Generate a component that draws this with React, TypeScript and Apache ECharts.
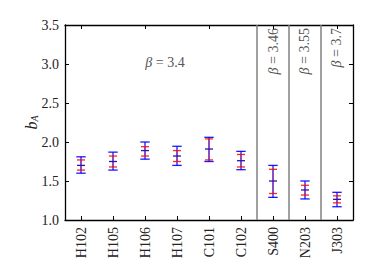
import React, { useEffect, useRef } from "react";
import * as echarts from "echarts";

const categories = ["H102", "H105", "H106", "H107", "C101", "C102", "S400", "N203", "J303"];
const centerValues = [1.70, 1.75, 1.89, 1.82, 1.91, 1.76, 1.50, 1.385, 1.265];
const blueLow = [1.60, 1.64, 1.78, 1.70, 1.75, 1.645, 1.29, 1.27, 1.17];
const blueHigh = [1.81, 1.87, 2.00, 1.945, 2.06, 1.88, 1.70, 1.50, 1.355];
const redLow = [1.64, 1.68, 1.82, 1.75, 1.77, 1.68, 1.34, 1.32, 1.22];
const redHigh = [1.77, 1.82, 1.94, 1.89, 2.04, 1.84, 1.65, 1.445, 1.31];
const separatorsAfter = [5, 6, 7];
const yTicks = { min: 1.0, max: 3.5, interval: 0.5 };

const FONT = "Liberation Serif";

function errRender(color: string, lineColor: string, capHalf: number, lw: number) {
  return (params: any, api: any) => {
    const x = api.value(0);
    const p1 = api.coord([x, api.value(1)]);
    const p2 = api.coord([x, api.value(2)]);
    const st = { stroke: color, lineWidth: lw };
    return {
      type: "group",
      children: [
        { type: "line", shape: { x1: p1[0], y1: p1[1], x2: p2[0], y2: p2[1] }, style: { stroke: lineColor, lineWidth: lw } },
        { type: "line", shape: { x1: p1[0] - capHalf, y1: p1[1], x2: p1[0] + capHalf, y2: p1[1] }, style: st },
        { type: "line", shape: { x1: p2[0] - capHalf, y1: p2[1], x2: p2[0] + capHalf, y2: p2[1] }, style: st },
      ],
    };
  };
}

const betaStyle = (text: string) => ({
  text,
  fontFamily: FONT,
  fontSize: 14,
  fill: "#555",
  rich: {
    i: { fontFamily: FONT, fontStyle: "italic", fontSize: 14, fill: "#555" },
    n: { fontFamily: FONT, fontSize: 14, fill: "#555" },
  },
});

export default function App() {
  const ref = useRef<HTMLDivElement>(null);
  useEffect(() => {
    if (!ref.current) return;
    const chart = echarts.init(ref.current, null, { renderer: "svg" });
    const axisLine = { show: true, lineStyle: { color: "#000", width: 1.3 } };
    const tick = { show: true, inside: true, length: 4, lineStyle: { color: "#000", width: 1 } };
    chart.setOption({
      animation: false,
      backgroundColor: "#fff",
      textStyle: { fontFamily: FONT },
      grid: { left: 65, right: 21, top: 25, bottom: 60 },
      xAxis: [
        {
          type: "category",
          data: categories,
          boundaryGap: true,
          axisLine,
          axisTick: { ...tick, alignWithLabel: true },
          axisLabel: { rotate: 90, fontFamily: FONT, fontSize: 14, color: "#222", margin: 7 },
          splitLine: { show: false },
        },
        {
          type: "category",
          data: categories,
          position: "top",
          boundaryGap: true,
          axisLine,
          axisTick: { ...tick, alignWithLabel: true },
          axisLabel: { show: false },
        },
      ],
      yAxis: [
        {
          type: "value",
          min: yTicks.min,
          max: yTicks.max,
          interval: yTicks.interval,
          axisLine,
          axisTick: tick,
          splitLine: { show: false },
          axisLabel: {
            fontFamily: FONT,
            fontSize: 14,
            color: "#222",
            margin: 6,
            formatter: (v: number) => v.toFixed(1),
          },
          name: "{b|b}{a|A}",
          nameLocation: "middle",
          nameGap: 26,
          nameMoveOverlap: false,
          nameRotate: 90,
          nameTextStyle: {
            fontFamily: FONT,
            rich: {
              b: { fontFamily: FONT, fontStyle: "italic", fontSize: 16, color: "#222" },
              a: { fontFamily: FONT, fontStyle: "italic", fontSize: 10, color: "#222", padding: [6, 0, 0, 0] },
            },
          },
        },
        {
          type: "value",
          min: yTicks.min,
          max: yTicks.max,
          interval: yTicks.interval,
          position: "right",
          axisLine,
          axisTick: tick,
          splitLine: { show: false },
          axisLabel: { show: false },
        },
      ],
      series: [
        {
          type: "custom",
          xAxisIndex: 0,
          yAxisIndex: 0,
          silent: true,
          renderItem: (params: any, api: any) => {
            const i = api.value(0);
            const bw = api.size([1, 0])[0];
            const x = api.coord([i, yTicks.min])[0] + bw / 2;
            const cs = params.coordSys;
            return {
              type: "line",
              shape: { x1: x, y1: cs.y, x2: x, y2: cs.y + cs.height },
              style: { stroke: "#808080", lineWidth: 1.5 },
            };
          },
          data: separatorsAfter.map((s) => [s]),
        },
        {
          type: "custom",
          silent: true,
          renderItem: errRender("rgba(0,0,255,0.9)", "rgba(0,0,255,0.9)", 4.7, 1.3),
          data: categories.map((_, i) => [i, blueLow[i], blueHigh[i]]),
        },
        {
          type: "custom",
          silent: true,
          renderItem: errRender("rgba(255,0,0,0.85)", "rgba(255,0,0,0.4)", 4.0, 1.3),
          data: categories.map((_, i) => [i, redLow[i], redHigh[i]]),
        },
        {
          type: "custom",
          silent: true,
          renderItem: (params: any, api: any) => {
            const p = api.coord([api.value(0), api.value(1)]);
            return {
              type: "line",
              shape: { x1: p[0] - 4, y1: p[1], x2: p[0] + 4, y2: p[1] },
              style: { stroke: "#2a12b4", lineWidth: 1.3 },
            };
          },
          data: categories.map((_, i) => [i, centerValues[i]]),
        },
      ],
      graphic: [
        {
          type: "text",
          x: 165,
          y: 62,
          style: { ...betaStyle("{i|β}{n| = 3.4}"), align: "center", verticalAlign: "middle" },
        },
        ...[
          { x: 273, t: "3.46" },
          { x: 304.5, t: "3.55" },
          { x: 336.5, t: "3.7" },
        ].map((o) => ({
          type: "text",
          x: o.x,
          y: 28,
          rotation: Math.PI / 2,
          style: { ...betaStyle("{i|β}{n| = " + o.t + "}"), align: "right", verticalAlign: "middle" },
        })),
      ],
    });
    return () => chart.dispose();
  }, []);
  return <div ref={ref} style={{ width: 374, height: 280, margin: -8 }} />;
}
